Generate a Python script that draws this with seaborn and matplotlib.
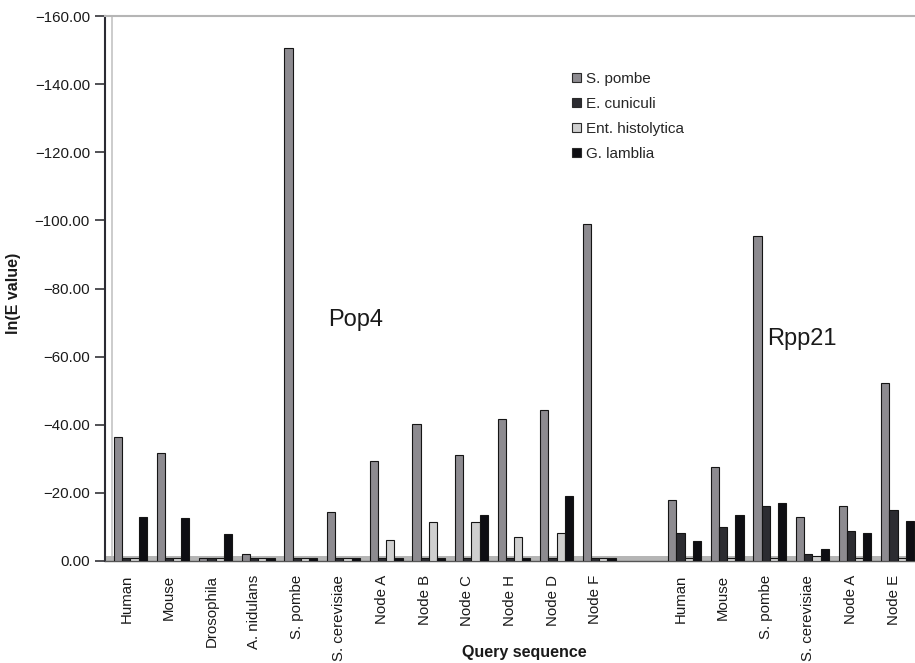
import numpy as np
import pandas as pd
import matplotlib
matplotlib.use("Agg")
import matplotlib.pyplot as plt
import seaborn as sns
from matplotlib.patches import Patch
from matplotlib.ticker import FuncFormatter

# ---- data -----------------------------------------------------------------
species = ["S. pombe", "E. cuniculi", "Ent. histolytica", "G. lamblia"]

pop4_queries = ["Human", "Mouse", "Drosophila", "A. nidulans", "S. pombe",
                "S. cerevisiae", "Node A", "Node B", "Node C", "Node H",
                "Node D", "Node F"]
pop4_s_pombe = [-36.5, -31.7, -1.0, -2.2, -150.5, -14.5, -29.4, -40.2, -31.1, -41.8, -44.4, -98.8]
pop4_e_cuniculi = [-1.0, -1.0, -1.0, -1.0, -1.0, -1.0, -1.0, -1.0, -1.0, -1.0, -1.0, -1.0]
pop4_ent_histolytica = [-1.0, -1.0, -1.0, -1.0, -1.0, -1.0, -6.2, -11.4, -11.4, -7.1, -8.1, -1.0]
pop4_g_lamblia = [-12.8, -12.5, -8.0, -1.0, -1.0, -1.0, -1.0, -1.0, -13.4, -1.0, -19.1, -1.0]

rpp21_queries = ["Human", "Mouse", "S. pombe", "S. cerevisiae", "Node A", "Node E"]
rpp21_s_pombe = [-17.9, -27.5, -95.4, -13.0, -16.1, -52.4]
rpp21_e_cuniculi = [-8.1, -10.1, -16.2, -2.0, -8.9, -15.0]
rpp21_ent_histolytica = [-1.0, -1.0, -1.0, -1.5, -1.0, -1.0]
rpp21_g_lamblia = [-5.9, -13.4, -16.9, -3.5, -8.3, -11.7]

palette = {"S. pombe": "#8d8b90", "E. cuniculi": "#2c2c31",
           "Ent. histolytica": "#cfcfcf", "G. lamblia": "#0e0e13"}

# ---- long-form table -------------------------------------------------------
rows = []
for protein, queries, series in [
    ("Pop4", pop4_queries, [pop4_s_pombe, pop4_e_cuniculi, pop4_ent_histolytica, pop4_g_lamblia]),
    ("Rpp21", rpp21_queries, [rpp21_s_pombe, rpp21_e_cuniculi, rpp21_ent_histolytica, rpp21_g_lamblia]),
]:
    for sp, vals in zip(species, series):
        for q, v in zip(queries, vals):
            rows.append({"key": f"{protein}|{q}", "species": sp, "value": v})
df = pd.DataFrame(rows)

order = [f"Pop4|{q}" for q in pop4_queries] + ["gap"] + [f"Rpp21|{q}" for q in rpp21_queries]
tick_labels = pop4_queries + [""] + rpp21_queries

# ---- figure ----------------------------------------------------------------
sns.set_style("white")
plt.rcParams["font.family"] = ["Liberation Sans", "DejaVu Sans"]
plt.rcParams["axes.unicode_minus"] = True

W, H = 915, 663
fig = plt.figure(figsize=(W / 100, H / 100), dpi=100)
ax = fig.add_axes([105 / W, (H - 561) / H, 810 / W, 545 / H])

shift = 0.594  # bars sit right of the slot centre (depth offset)
n = len(order)

# floor strip
ax.axhspan(0, -1.6, facecolor="#b5b5b5", edgecolor="none", zorder=1)
# back-wall edge
ax.axvline(-shift + 7 / 42.63, color="#c4c4c4", lw=1.2, zorder=0.5)

sns.barplot(data=df, x="key", y="value", hue="species", order=order,
            hue_order=species, palette=palette, width=0.77,
            edgecolor="#151515", linewidth=0.8, errorbar=None,
            legend=False, saturation=1, ax=ax, zorder=3)

ax.set_ylim(0, -160)
ax.set_yticks(np.arange(0, -161, -20))
ax.yaxis.set_major_formatter(FuncFormatter(
    lambda v, p: "0.00" if abs(v) < 1e-9 else ("%.2f" % v).replace("-", "\u2212")))

ax.set_xlim(-shift, n - shift)
ax.set_xticks([i - shift + 0.5 for i in range(n)], labels=tick_labels, rotation=90)
ax.set_xticks([i - shift for i in range(n + 1)], minor=True)

ax.tick_params(axis="x", which="major", length=0, pad=10, labelsize=10.8, colors="#1a1a1a")
ax.tick_params(axis="x", which="minor", length=6.5, width=1.2, color="#333338")
ax.tick_params(axis="y", which="major", length=7.2, width=1.2, pad=3.6,
               labelsize=10.8, color="#333338", labelcolor="#1a1a1a", left=True)

ax.set_xlabel("")
ax.set_ylabel("")

for side, col, lw in [("left", "#2b2b33", 1.5), ("bottom", "#555555", 1.0), ("top", "#b5b5b5", 1.5)]:
    ax.spines[side].set_visible(True)
    ax.spines[side].set_color(col)
    ax.spines[side].set_linewidth(lw)
ax.spines["right"].set_visible(False)

# group names
ax.text(0.31, 0.442, "Pop4", transform=ax.transAxes, ha="center", va="center",
        fontsize=17, color="#1a1a1a")
ax.text(0.860, 0.407, "Rpp21", transform=ax.transAxes, ha="center", va="center",
        fontsize=17, color="#1a1a1a")

# axis titles
fig.text(14 / W, 1 - 293 / H, "ln(E value)", rotation=90, ha="center", va="center",
         fontsize=11.5, fontweight="bold", color="#1a1a1a")
fig.text(524 / W, 1 - 653 / H, "Query sequence", ha="center", va="center",
         fontsize=11.5, fontweight="bold", color="#1a1a1a")

# legend
handles = [Patch(facecolor=palette[s], edgecolor="#2a2a2a", linewidth=0.8, label=s)
           for s in species]
fig.legend(handles=handles, loc="upper left", bbox_to_anchor=(572 / W, 1 - 72 / H),
           frameon=False, fontsize=11, borderpad=0, borderaxespad=0,
           handlelength=0.6, handleheight=0.6, handletextpad=0.3, labelspacing=0.72)

fig.savefig("out.png", dpi=100)
